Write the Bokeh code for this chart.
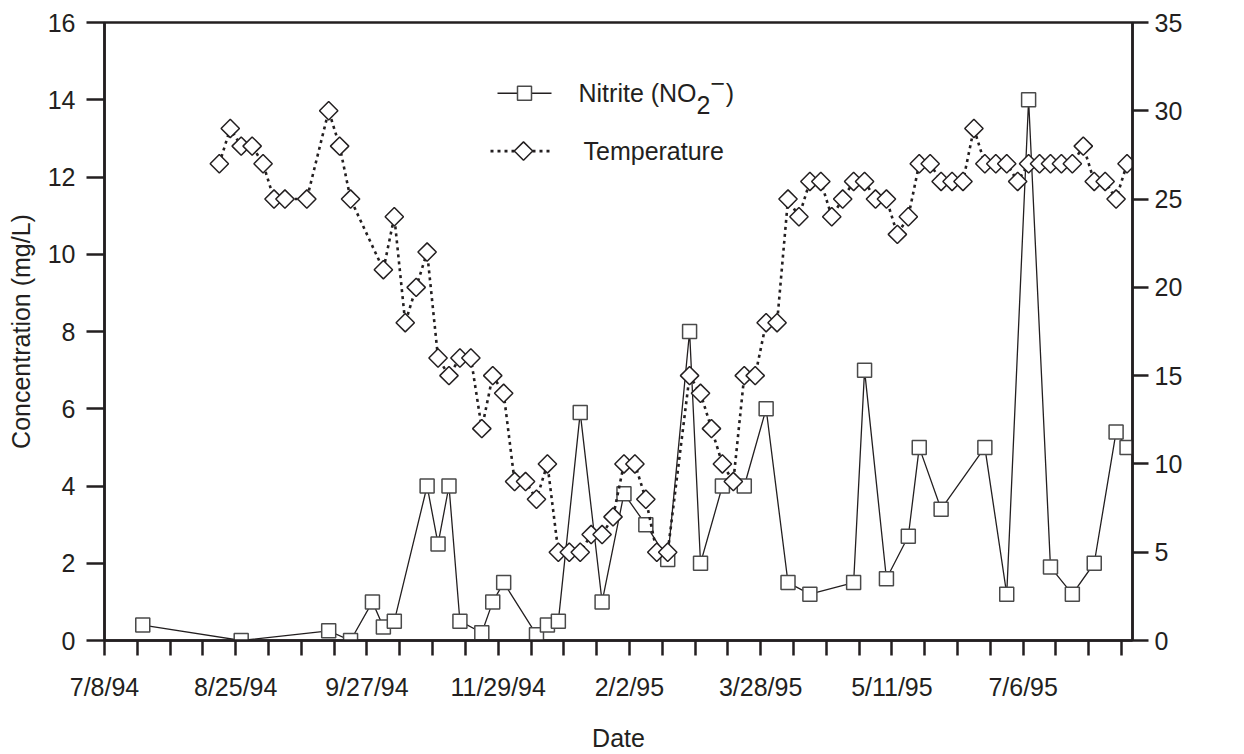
import numpy as np
from bokeh.plotting import figure
from bokeh.models import Range1d, LinearAxis, FixedTicker, Label
from bokeh.embed import file_html
from bokeh.resources import INLINE

# ---- data (x in weeks after 7/8/94; one axis tick = 3 weeks) ----
nitrite_week = [3.5, 12.5, 20.5, 22.5, 24.5, 25.5, 26.5, 29.5, 30.5, 31.5,
                32.5, 34.5, 35.5, 36.5, 39.5, 40.5, 41.5, 43.5, 45.5, 47.5,
                49.5, 51.5, 53.5, 54.5, 56.5, 58.5, 60.5, 62.5, 64.5, 68.5,
                69.5, 71.5, 73.5, 74.5, 76.5, 80.5, 82.5, 84.5, 86.5, 88.5,
                90.5, 92.5, 93.5]
nitrite_mg_l = [0.4, 0.0, 0.25, 0.0, 1.0, 0.35, 0.5, 4.0, 2.5, 4.0,
                0.5, 0.2, 1.0, 1.5, 0.15, 0.4, 0.5, 5.9, 1.0, 3.8,
                3.0, 2.1, 8.0, 2.0, 4.0, 4.0, 6.0, 1.5, 1.2, 1.5,
                7.0, 1.6, 2.7, 5.0, 3.4, 5.0, 1.2, 14.0, 1.9, 1.2,
                2.0, 5.4, 5.0]

temp_week = [10.5, 11.5, 12.5, 13.5, 14.5, 15.5, 16.5, 18.5, 20.5, 21.5,
             22.5, 25.5, 26.5, 27.5, 28.5, 29.5, 30.5, 31.5, 32.5, 33.5,
             34.5, 35.5, 36.5, 37.5, 38.5, 39.5, 40.5, 41.5, 42.5, 43.5,
             44.5, 45.5, 46.5, 47.5, 48.5, 49.5, 50.5, 51.5, 53.5, 54.5,
             55.5, 56.5, 57.5, 58.5, 59.5, 60.5, 61.5, 62.5, 63.5, 64.5,
             65.5, 66.5, 67.5, 68.5, 69.5, 70.5, 71.5, 72.5, 73.5, 74.5,
             75.5, 76.5, 77.5, 78.5, 79.5, 80.5, 81.5, 82.5, 83.5, 84.5,
             85.5, 86.5, 87.5, 88.5, 89.5, 90.5, 91.5, 92.5, 93.5]
temp_c = [27, 29, 28, 28, 27, 25, 25, 25, 30, 28,
          25, 21, 24, 18, 20, 22, 16, 15, 16, 16,
          12, 15, 14, 9, 9, 8, 10, 5, 5, 5,
          6, 6, 7, 10, 10, 8, 5, 5, 15, 14,
          12, 10, 9, 15, 15, 18, 18, 25, 24, 26,
          26, 24, 25, 26, 26, 25, 25, 23, 24, 27,
          27, 26, 26, 26, 29, 27, 27, 27, 26, 27,
          27, 27, 27, 27, 28, 26, 26, 25, 27]

x_tick_weeks = list(range(0, 94, 3))
x_label_weeks = [0, 12, 24, 36, 48, 60, 72, 84]
x_labels = ["7/8/94", "8/25/94", "9/27/94", "11/29/94", "2/2/95", "3/28/95", "5/11/95", "7/6/95"]
left_ticks = [0, 2, 4, 6, 8, 10, 12, 14, 16]
right_ticks = [0, 5, 10, 15, 20, 25, 30, 35]

# ---- styling ----
INK = "#231f20"
FONT = "Liberation Sans"
FSN = 25
FS = f"{FSN}px"

X_MAX, Y_MAX, T_MAX = 94, 16, 35
L, R, T, B = 104, 1132, 22, 642  # frame in pixels


def px_to_x(px):
    return (px - L) * X_MAX / (R - L)


def py_to_y(py):
    return (B - py) * Y_MAX / (B - T)


p = figure(width=1244, height=754, output_backend="svg", toolbar_location=None,
           x_range=Range1d(0, X_MAX), y_range=Range1d(0, Y_MAX),
           min_border_left=L, min_border_right=1244 - R,
           min_border_top=T, min_border_bottom=754 - B)
p.extra_y_ranges = {"temp": Range1d(0, T_MAX)}
p.grid.visible = False
p.outline_line_color = INK
p.outline_line_width = 2.5
p.background_fill_color = "white"
p.border_fill_color = "white"


def style(ax, tick_out, standoff):
    ax.axis_line_color = INK
    ax.axis_line_width = 2.5
    ax.major_tick_line_color = INK
    ax.major_tick_line_width = 2.5
    ax.major_tick_in = 0
    ax.major_tick_out = tick_out
    ax.minor_tick_line_color = None
    ax.major_label_text_font = FONT
    ax.major_label_text_font_size = FS
    ax.major_label_text_color = INK
    ax.major_label_standoff = standoff
    ax.axis_label_text_font = FONT
    ax.axis_label_text_font_size = FS
    ax.axis_label_text_font_style = "normal"
    ax.axis_label_text_color = INK


xa = p.xaxis[0]
xa.ticker = FixedTicker(ticks=x_tick_weeks)
overrides = {w: "" for w in x_tick_weeks}
for w, lab in zip(x_label_weeks, x_labels):
    overrides[w] = lab
xa.major_label_overrides = overrides
xa.axis_label = "Date"
style(xa, 15, 17)
xa.axis_label_standoff = 20

ya = p.yaxis[0]
ya.ticker = FixedTicker(ticks=left_ticks)
ya.axis_label = "Concentration (mg/L)"
style(ya, 18, 11)
ya.axis_label_standoff = 10

ra = LinearAxis(y_range_name="temp", ticker=FixedTicker(ticks=right_ticks))
style(ra, 16, 6)
p.add_layout(ra, "right")

# ---- series ----
p.line(nitrite_week, nitrite_mg_l, line_color=INK, line_width=1.3)
p.scatter(nitrite_week, nitrite_mg_l, marker="square", size=14,
          fill_color="white", line_color="#4a4a4a", line_width=1.5)

p.line(temp_week, temp_c, y_range_name="temp", line_color=INK, line_width=2.6,
       line_dash="3 4")
p.scatter(temp_week, temp_c, y_range_name="temp", marker="square", angle=np.pi / 4,
          size=13, fill_color="white", line_color=INK, line_width=1.5)

# ---- legend (drawn by hand to keep the sub/superscript) ----
ly1, ly2 = py_to_y(93), py_to_y(151)
p.line([px_to_x(497), px_to_x(551)], [ly1, ly1], line_color=INK, line_width=1.3)
p.scatter([px_to_x(524)], [ly1], marker="square", size=14,
          fill_color="white", line_color="#4a4a4a", line_width=1.5)
p.line([px_to_x(490), px_to_x(552)], [ly2, ly2], line_color=INK, line_width=2.6,
       line_dash="3 4")
p.scatter([px_to_x(523)], [ly2], marker="square", angle=np.pi / 4, size=13,
          fill_color="white", line_color=INK, line_width=1.5)

tx1 = px_to_x(578)
base = dict(text_font=FONT, text_font_size=FS, text_color=INK, text_baseline="middle")
p.add_layout(Label(x=tx1, y=ly1, text="Nitrite (NO", **base))
w1 = 4.722 * FSN
p.add_layout(Label(x=tx1, y=ly1, x_offset=w1, y_offset=-12, text="2", **base))
p.add_layout(Label(x=tx1, y=ly1, x_offset=w1 + 0.556 * FSN, y_offset=10, text="\u2212", **base))
p.add_layout(Label(x=tx1, y=ly1, x_offset=w1 + 1.17 * FSN, text=")", **base))
p.add_layout(Label(x=px_to_x(583), y=ly2, text="Temperature", **base))

# right axis title (reads bottom-to-top)
p.add_layout(Label(x=px_to_x(1218), y=Y_MAX / 2, text="Temperature (\u00b0C)", angle=np.pi / 2,
                   text_align="center", text_baseline="middle", text_font=FONT,
                   text_font_size=FS, text_color=INK))

open("out.html", "w").write(file_html(p, INLINE))
